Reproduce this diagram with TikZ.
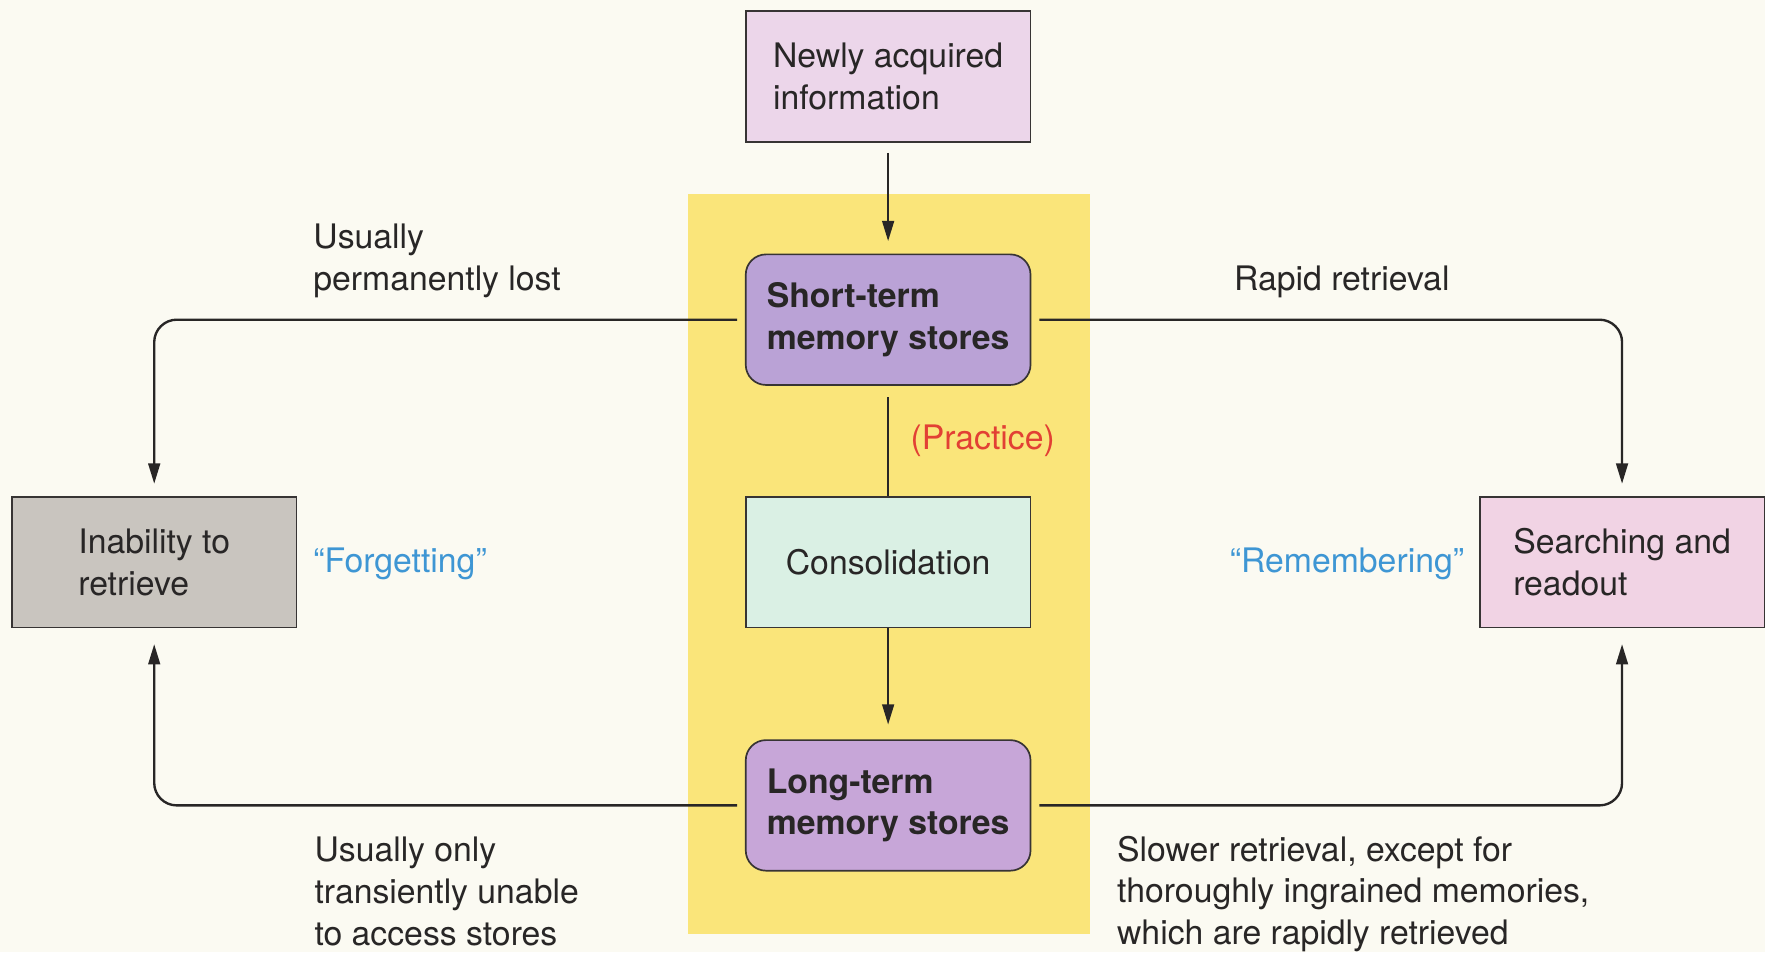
\documentclass[tikz,border=0pt]{standalone}
\usepackage{fontspec}
\setmainfont{TeX Gyre Heros}
\usetikzlibrary{arrows.meta}
\definecolor{bgc}{RGB}{251,250,242}
\definecolor{yel}{RGB}{250,229,122}
\definecolor{ink}{RGB}{40,38,38}
\definecolor{edge}{RGB}{55,52,52}
\definecolor{newc}{RGB}{236,214,234}
\definecolor{stc}{RGB}{186,162,214}
\definecolor{ltc}{RGB}{199,166,216}
\definecolor{conc}{RGB}{218,240,228}
\definecolor{inc}{RGB}{201,197,191}
\definecolor{src}{RGB}{241,211,228}
\definecolor{blu}{RGB}{62,150,212}
\definecolor{prac}{RGB}{226,64,52}
\begin{document}
\begin{tikzpicture}[x=0.5pt,y=-0.5pt,
  txt/.style={font=\fontsize{15}{18.5}\selectfont, text=ink, inner sep=0pt, align=left},
  box/.style={txt, draw=edge, line width=0.75pt, minimum width=126.5pt, minimum height=58pt},
  rbox/.style={box, rounded corners=9pt, font=\fontsize{15}{18.5}\selectfont\bfseries},
  conn/.style={draw=ink, line width=1.05pt},
  arr/.style={-{Triangle[length=9pt,width=5.2pt]}},
  loop/.style={conn, arr, rounded corners=10pt, shorten <=3.5pt}
]
\fill[bgc] (0,0) rectangle (1568,846);
\useasboundingbox (0,0) rectangle (1568,846);
\fill[yel] (611,172) rectangle (968,830);

\node[box, fill=newc] (new) at (789,68) {Newly acquired\\information};
\node[rbox, fill=stc] (st) at (789,284) {Short-term\\memory stores};
\node[box, fill=conc] (con) at (789,499.5) {Consolidation};
\node[rbox, fill=ltc] (lt) at (789,715.5) {Long-term\\memory stores};
\node[box, fill=inc] (inab) at (137,499.5) {Inability to\\retrieve};
\node[box, fill=src] (sr) at (1441,499.5) {Searching and\\readout};

\node[txt, text=prac] (prl) at (873,392) {(Practice)};
\node[txt, text=blu, anchor=west] (fg) at (278,501) {“Forgetting”};
\node[txt, text=blu, anchor=east] (rm) at (1301,501) {“Remembering”};
\node[txt, anchor=west] (ul) at (278,232) {Usually\\permanently lost};
\node[txt, anchor=west] (rr) at (1096,250) {Rapid retrieval};
\node[txt, anchor=west] (uo) at (279,792) {Usually only\\transiently unable\\to access stores};
\node[txt, anchor=west] (sl) at (992,794) {Slower retrieval, except for\\thoroughly ingrained memories,\\which are rapidly retrieved};

\draw[conn, arr, shorten <=4.5pt, shorten >=5.5pt] (new) -- (st);
\draw[conn, shorten <=5pt] (st) -- (con);
\draw[conn, arr, shorten >=6.5pt] (con) -- (lt);
\draw[loop, shorten >=5.5pt] (st.west) -| (inab.north);
\draw[loop, shorten >=5.5pt] (st.east) -| (sr.north);
\draw[loop, shorten >=7pt] (lt.west) -| (inab.south);
\draw[loop, shorten >=7pt] (lt.east) -| (sr.south);
\end{tikzpicture}
\end{document}
